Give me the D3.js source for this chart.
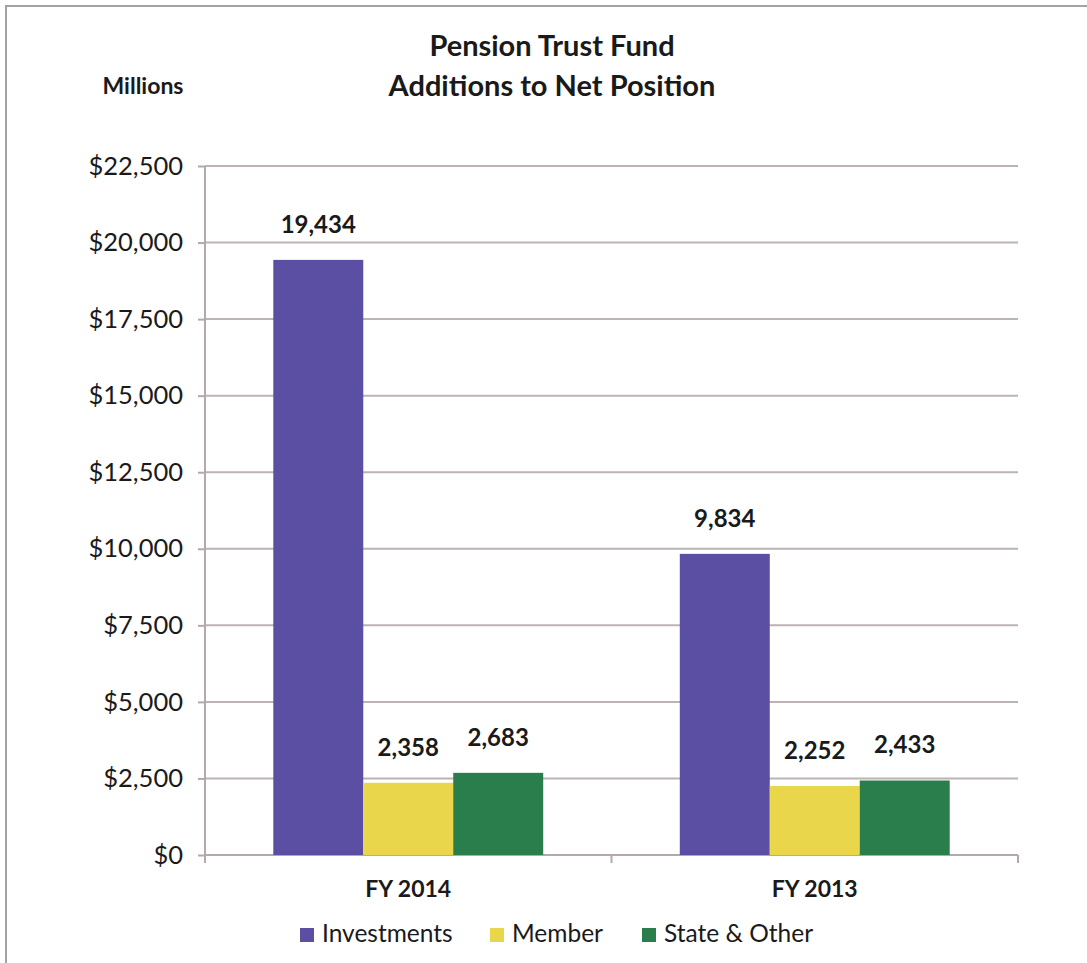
<!DOCTYPE html>
<html>
<head>
<meta charset="utf-8">
<script src="https://cdn.jsdelivr.net/npm/d3@7"></script>
<style>
  body { margin: 0; background: #fff; }
  svg { display: block; font-family: Lato, "Open Sans", sans-serif; }
</style>
</head>
<body>
<svg id="chart"></svg>
<script>
var years = ["FY 2014", "FY 2013"];
var seriesNames = ["Investments", "Member", "State & Other"];
var investments = [19434, 9834];
var member = [2358, 2252];
var stateOther = [2683, 2433];
var yTicks = [0, 2500, 5000, 7500, 10000, 12500, 15000, 17500, 20000, 22500];

var colors = ["#5a4fa3", "#e9d64b", "#2a7e4b"];
var allSeries = [investments, member, stateOther];

var width = 1087, height = 963;
var margin = {top: 166, left: 205, right: 69, bottom: 108};

var svg = d3.select("#chart")
    .attr("width", width)
    .attr("height", height);

// frame
svg.append("rect")
    .attr("x", 6).attr("y", 6)
    .attr("width", width + 10).attr("height", height + 10)
    .attr("fill", "#fff")
    .attr("stroke", "#a3a3a3")
    .attr("stroke-width", 2);

var x0 = d3.scaleBand()
    .domain(years)
    .range([margin.left, width - margin.right])
    .paddingInner(0.336)
    .paddingOuter(0.168);

var x1 = d3.scaleBand()
    .domain(seriesNames)
    .range([0, x0.bandwidth()]);

var y = d3.scaleLinear()
    .domain([0, 22500])
    .range([height - margin.bottom, margin.top]);

// gridlines
svg.append("g")
    .selectAll("line")
    .data(yTicks.slice(1))
    .enter()
    .append("line")
    .attr("x1", margin.left)
    .attr("x2", width - margin.right)
    .attr("y1", function (d) { return y(d); })
    .attr("y2", function (d) { return y(d); })
    .attr("stroke", "#bdb3b3")
    .attr("stroke-width", 2);

// y axis
var yAxis = svg.append("g")
    .attr("transform", "translate(" + margin.left + ",0)")
    .call(d3.axisLeft(y)
        .tickValues(yTicks)
        .tickSize(7)
        .tickPadding(15)
        .tickFormat(function (d) { return "$" + d3.format(",")(d); }));
yAxis.selectAll("line, path").attr("stroke", "#b3a9a9").attr("stroke-width", 2);
yAxis.select(".domain").attr("d", "M0," + y(22500) + "V" + (y(0)));
yAxis.selectAll("text")
    .attr("fill", "#1a1a1a")
    .style("font-size", "25.5px")
    .style("font-family", "Lato, sans-serif");

// x axis
var xAxis = svg.append("g")
    .attr("transform", "translate(0," + y(0) + ")");
xAxis.append("line")
    .attr("x1", margin.left).attr("x2", width - margin.right)
    .attr("stroke", "#b3a9a9").attr("stroke-width", 2);
var sep = [margin.left, (x0("FY 2014") + x0.bandwidth() + x0("FY 2013")) / 2, width - margin.right];
xAxis.selectAll("line.tick")
    .data(sep)
    .enter()
    .append("line")
    .attr("class", "tick")
    .attr("x1", function (d) { return d; })
    .attr("x2", function (d) { return d; })
    .attr("y1", 0).attr("y2", 8)
    .attr("stroke", "#b3a9a9").attr("stroke-width", 2);
xAxis.selectAll("text")
    .data(years)
    .enter()
    .append("text")
    .attr("x", function (d) { return x0(d) + x0.bandwidth() / 2; })
    .attr("y", 42)
    .attr("text-anchor", "middle")
    .attr("font-weight", "bold")
    .attr("font-size", "23px")
    .attr("fill", "#1a1a1a")
    .text(function (d) { return d; });

// bars
var groups = svg.append("g")
    .selectAll("g")
    .data(years)
    .enter()
    .append("g")
    .attr("transform", function (d) { return "translate(" + x0(d) + ",0)"; });

var cells = groups.selectAll("g")
    .data(function (d, i) {
        return seriesNames.map(function (s, j) {
            return {series: s, idx: j, value: allSeries[j][i]};
        });
    })
    .enter()
    .append("g");

cells.append("rect")
    .attr("x", function (d) { return x1(d.series); })
    .attr("y", function (d) { return y(d.value); })
    .attr("width", x1.bandwidth())
    .attr("height", function (d) { return y(0) - y(d.value); })
    .attr("fill", function (d) { return colors[d.idx]; });

cells.append("text")
    .attr("x", function (d) { return x1(d.series) + x1.bandwidth() / 2; })
    .attr("y", function (d) { return y(d.value) - 27; })
    .attr("text-anchor", "middle")
    .attr("font-weight", "bold")
    .attr("font-size", "24px")
    .attr("fill", "#1a1a1a")
    .text(function (d) { return d3.format(",")(d.value); });

// titles
var title = svg.append("text")
    .attr("text-anchor", "middle")
    .attr("font-weight", "bold")
    .attr("font-size", "29px")
    .attr("fill", "#1a1a1a");
title.append("tspan").attr("x", 552).attr("y", 56).text("Pension Trust Fund");
title.append("tspan").attr("x", 552).attr("y", 96).text("Additions to Net Position");

svg.append("text")
    .attr("x", 143).attr("y", 94)
    .attr("text-anchor", "middle")
    .attr("font-weight", "bold")
    .attr("font-size", "23px")
    .attr("fill", "#1a1a1a")
    .text("Millions");

// legend
var legendX = [300, 490, 642];
var legend = svg.append("g")
    .selectAll("g")
    .data(seriesNames)
    .enter()
    .append("g")
    .attr("transform", function (d, i) { return "translate(" + legendX[i] + ",928)"; });
legend.append("rect")
    .attr("width", 14).attr("height", 14)
    .attr("fill", function (d, i) { return colors[i]; });
legend.append("text")
    .attr("x", 22).attr("y", 14)
    .attr("font-size", "24.5px")
    .attr("fill", "#1a1a1a")
    .text(function (d) { return d; });
</script>
</body>
</html>
